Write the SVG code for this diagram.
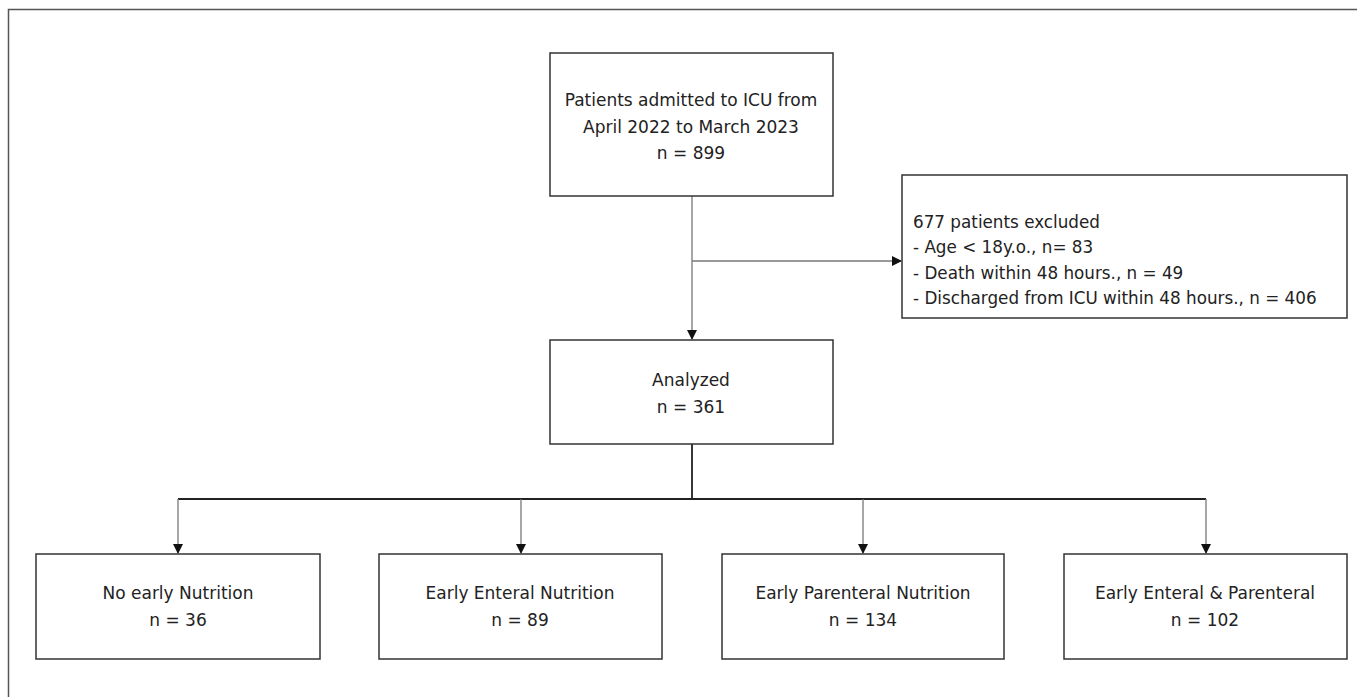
<svg xmlns="http://www.w3.org/2000/svg" width="1357" height="697" viewBox="0 0 1357 697">
<defs>
<style>
.box{fill:#fff;stroke:#333;stroke-width:1.5}
.t{font-family:"DejaVu Sans","Liberation Sans",sans-serif;font-size:17px;fill:#222;text-anchor:middle}
.tl{font-family:"DejaVu Sans","Liberation Sans",sans-serif;font-size:16.8px;fill:#222}
.c{fill:none;stroke:#777;stroke-width:1.3}
.ck{fill:none;stroke:#222;stroke-width:1.8}
</style>
<marker id="ah" markerWidth="10" markerHeight="10" refX="9" refY="5" orient="auto" markerUnits="userSpaceOnUse">
<path d="M0,0 L10,5 L0,10 Z" fill="#111"/>
</marker>
</defs>
<rect width="1357" height="697" fill="#fff"/>
<path d="M8.5,697 L8.5,9.5 L1357,9.5" fill="none" stroke="#555" stroke-width="1.5"/>
<g id="connectors">
<line class="c" x1="692" y1="196" x2="692" y2="339" marker-end="url(#ah)"/>
<line class="c" x1="692" y1="261" x2="901" y2="261" marker-end="url(#ah)"/>
<line class="ck" x1="692" y1="444" x2="692" y2="499"/>
<line class="ck" x1="178" y1="499" x2="1206" y2="499"/>
<line class="c" x1="178" y1="499" x2="178" y2="553" marker-end="url(#ah)"/>
<line class="c" x1="521" y1="499" x2="521" y2="553" marker-end="url(#ah)"/>
<line class="c" x1="863" y1="499" x2="863" y2="553" marker-end="url(#ah)"/>
<line class="c" x1="1206" y1="499" x2="1206" y2="553" marker-end="url(#ah)"/>
</g>
<g id="admitted">
<rect class="box" x="550" y="53" width="283" height="143"/>
<text class="t" x="691" y="106">Patients admitted to ICU from</text>
<text class="t" x="691" y="133">April 2022 to March 2023</text>
<text class="t" x="691" y="159">n = 899</text>
</g>
<g id="excluded">
<rect class="box" x="902" y="175" width="445" height="143"/>
<text class="tl" x="913" y="228">677 patients excluded</text>
<text class="tl" x="913" y="253">- Age &lt; 18y.o., n= 83</text>
<text class="tl" x="913" y="279">- Death within 48 hours., n = 49</text>
<text class="tl" x="913" y="304">- Discharged from ICU within 48 hours., n = 406</text>
</g>
<g id="analyzed">
<rect class="box" x="550" y="340" width="283" height="104"/>
<text class="t" x="691" y="386">Analyzed</text>
<text class="t" x="691" y="413">n = 361</text>
</g>
<g id="none">
<rect class="box" x="36" y="554" width="284" height="105"/>
<text class="t" x="178" y="599">No early Nutrition</text>
<text class="t" x="178" y="626">n = 36</text>
</g>
<g id="enteral">
<rect class="box" x="379" y="554" width="283" height="105"/>
<text class="t" x="520" y="599">Early Enteral Nutrition</text>
<text class="t" x="520" y="626">n = 89</text>
</g>
<g id="parenteral">
<rect class="box" x="722" y="554" width="282" height="105"/>
<text class="t" x="863" y="599">Early Parenteral Nutrition</text>
<text class="t" x="863" y="626">n = 134</text>
</g>
<g id="both">
<rect class="box" x="1064" y="554" width="283" height="105"/>
<text class="t" x="1205" y="599">Early Enteral &amp; Parenteral</text>
<text class="t" x="1205" y="626">n = 102</text>
</g>
</svg>
